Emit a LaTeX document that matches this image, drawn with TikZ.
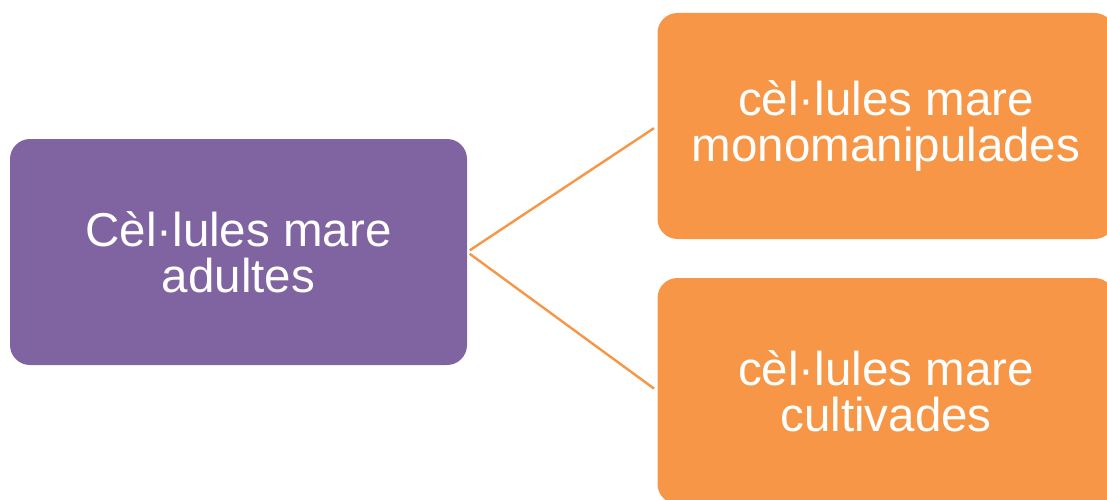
\documentclass[tikz,border=0pt]{standalone}
\usepackage{fontspec}
\setmainfont{Liberation Sans}
\definecolor{cpurple}{HTML}{8064A2}
\definecolor{corange}{HTML}{F79646}
\begin{document}
\begin{tikzpicture}[x=1pt,y=-1pt,
  boxstyle/.style={rounded corners=20pt, minimum width=457pt, minimum height=226pt, inner sep=0pt, align=center, text=white, font=\fontsize{47.5}{46}\selectfont},
  conn/.style={draw=corange, line width=2.4pt}]
\useasboundingbox (0,0) rectangle (1107,500);
\clip (0,0) rectangle (1107,500);
\node[boxstyle, fill=cpurple] (a) at (238.5,252) {Cèl·lules mare\\adultes};
\node[boxstyle, fill=corange] (b) at (886,126) {cèl·lules mare\\monomanipulades};
\node[boxstyle, fill=corange] (c) at (886,391) {cèl·lules mare\\cultivades};
\draw[conn, shorten <=3pt, shorten >=4pt] (a.east) -- (b.west);
\draw[conn, shorten <=3pt, shorten >=4pt] (a.east) -- (c.west);
\end{tikzpicture}
\end{document}
